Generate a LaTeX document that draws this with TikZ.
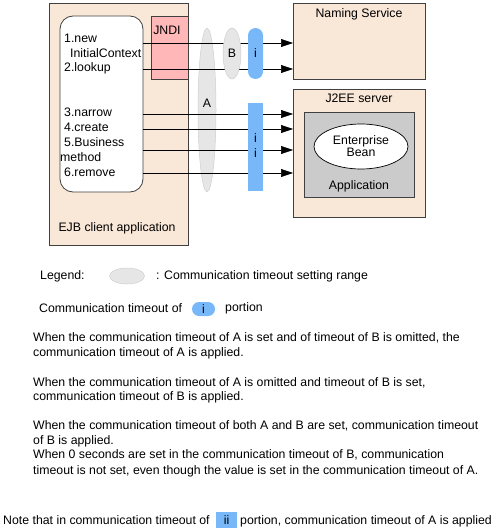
\documentclass[tikz,border=0pt]{standalone}
\usepackage{fontspec}
\setmainfont{Liberation Sans}
\usetikzlibrary{arrows.meta,shapes.geometric}
\definecolor{peach}{HTML}{F9E7D8}
\definecolor{jndipink}{HTML}{FFB7B7}
\definecolor{tblue}{HTML}{78B8F8}
\definecolor{rangegray}{HTML}{E6E6E6}
\definecolor{rangeedge}{HTML}{CFCFCF}
\definecolor{appgray}{HTML}{CBCBCB}
\begin{document}
\begin{tikzpicture}[x=1pt,y=-1pt,
  font=\fontsize{12.3}{14}\selectfont,
  box/.style={draw=black!75, line width=0.8pt, inner sep=0pt, outer sep=0pt},
  rangeov/.style={ellipse, draw=rangeedge, fill=rangegray, line width=0.5pt, inner sep=0pt},
  tpill/.style={fill=tblue, inner sep=0pt},
  lbl/.style={inner sep=0pt, anchor=west},
  txt/.style={inner sep=0pt, anchor=base west},
  call/.style={draw=black, line width=0.6pt, -{Triangle[length=12pt,width=8pt]}}]
\useasboundingbox (0,0) rectangle (497,532);

% client side
\node[box, fill=peach, minimum width=139pt, minimum height=242pt] (client) at (118.5,124) {};
\node[box, fill=white, rounded corners=13pt, minimum width=83pt, minimum height=176pt] (calls) at (101.5,104) {};
\node[box, fill=jndipink, minimum width=37pt, minimum height=63pt] (jndi) at (169.5,47.5) {};
\node[inner sep=0pt] (jndit) at (167,30) {JNDI};
\node[inner sep=0pt] (clientt) at (117,228) {EJB client application};

\node[lbl] (c1) at (64,38) {1.new};
\node[lbl] (c1b) at (70,53) {InitialContext};
\node[lbl] (c2) at (64,68) {2.lookup};
\node[lbl] (c3) at (64,112) {3.narrow};
\node[lbl] (c4) at (64,127) {4.create};
\node[lbl] (c5) at (64,142) {5.Business};
\node[lbl] (c5b) at (60,157) {method};
\node[lbl] (c6) at (64,172) {6.remove};

% server side
\node[box, fill=peach, minimum width=132pt, minimum height=76pt] (naming) at (359,41) {};
\node[inner sep=0pt] (namingt) at (359,14) {Naming Service};
\node[box, fill=peach, minimum width=132pt, minimum height=128pt] (j2ee) at (359,153) {};
\node[inner sep=0pt] (j2eet) at (359,98) {J2EE server};
\node[box, fill=appgray, minimum width=110pt, minimum height=85pt] (app) at (359,154.5) {};
\node[ellipse, draw=black, line width=0.7pt, fill=white, minimum width=94pt, minimum height=45pt, inner sep=0pt, align=center] (bean) at (361,146.5) {Enterprise\\[-2pt]Bean};
\node[inner sep=0pt] (appt) at (359,186) {Application};

% range A (behind the lines)
\node[rangeov, minimum width=18pt, minimum height=164pt] (rA) at (207,110) {};

% connectors
\draw[call] (calls.east |- 0,43) -- (naming.west |- 0,43);
\draw[call] (calls.east |- 0,69) -- (naming.west |- 0,69);
\draw[call] (calls.east |- 0,114) -- (j2ee.west |- 0,114);
\draw[call] (calls.east |- 0,129) -- (j2ee.west |- 0,129);
\draw[call] (calls.east |- 0,150) -- (j2ee.west |- 0,150);
\draw[call] (calls.east |- 0,173) -- (j2ee.west |- 0,173);

\node[inner sep=0pt] (rAt) at (207,103) {A};
\node[rangeov, minimum width=18pt, minimum height=51pt] (rB) at (232,53.5) {B};
\node[tpill, minimum width=15pt, minimum height=51pt, rounded corners=7.5pt] (pi) at (255.5,53.5) {i};
\node[tpill, minimum width=15pt, minimum height=87pt, align=center] (pii) at (255.5,147) {};
\node[inner sep=0pt] (piit1) at (255.5,138) {i};
\node[inner sep=0pt] (piit2) at (255.5,153) {i};

% legend
\node[lbl] (leg) at (40,276) {Legend:};
\node[rangeov, minimum width=35pt, minimum height=16pt] (legr) at (127,276) {};
\node[lbl] (legt) at (156,276) {: Communication timeout setting range};
\node[lbl] (leg2) at (39,308) {Communication timeout of};
\node[tpill, minimum width=23pt, minimum height=14pt, rounded corners=7pt] (legp) at (203.5,309) {i};
\node[lbl] (leg2b) at (225,308) {portion};

% explanations
\node[txt] (p1a) at (33,341) {When the communication timeout of A is set and of timeout of B is omitted, the};
\node[txt] (p1b) at (33,356) {communication timeout of A is applied.};
\node[txt] (p2a) at (33,386) {When the communication timeout of A is omitted and timeout of B is set,};
\node[txt] (p2b) at (33,400) {communication timeout of B is applied.};
\node[txt] (p3a) at (33,429) {When the communication timeout of both A and B are set, communication timeout};
\node[txt] (p3b) at (33,444) {of B is applied.};
\node[txt] (p3c) at (33,458) {When 0 seconds are set in the communication timeout of B, communication};
\node[txt] (p3d) at (33,474) {timeout is not set, even though the value is set in the communication timeout of A.};

\node[txt] (n1) at (3,524) {Note that in communication timeout of};
\node[tpill, minimum width=21pt, minimum height=16pt] (np) at (226.5,520) {ii};
\node[txt] (n2) at (240,524) {portion, communication timeout of A is applied};
\end{tikzpicture}
\end{document}
